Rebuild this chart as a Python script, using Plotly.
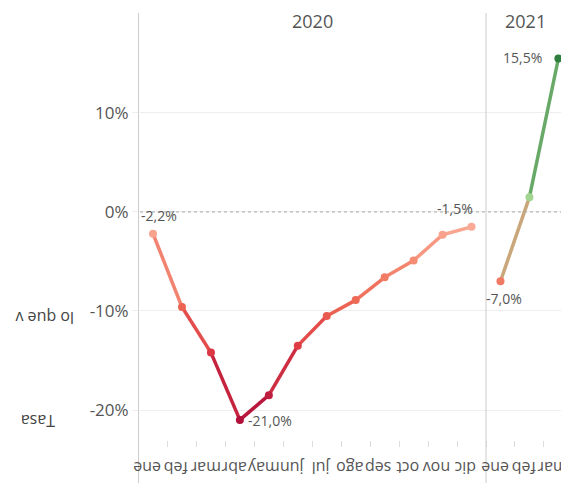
import plotly.graph_objects as go

months_2020 = ["ene", "feb", "mar", "abr", "may", "jun", "jul", "ago", "sep", "oct", "nov", "dic"]
values_2020 = [-2.2, -9.6, -14.2, -21.0, -18.5, -13.5, -10.5, -8.9, -6.6, -4.9, -2.3, -1.5]
months_2021 = ["ene", "feb", "mar"]
values_2021 = [-7.0, 1.5, 15.5]
years = ["2020", "2021"]
y_ticks = [-20, -10, 0, 10]
y_ticktext = ["-20%", "-10%", "0%", "10%"]

FONT = "Open Sans"
GREY = "#555555"

neg_stops = [(-21, (177, 16, 58)), (-14, (220, 56, 68)), (-9.5, (236, 100, 82)),
             (-5, (245, 139, 115)), (0, (251, 182, 164))]
pos_stops = [(0, (174, 222, 152)), (15.5, (46, 126, 62))]


def interp(stops, v):
    if v <= stops[0][0]:
        return stops[0][1]
    for (a, ca), (b, cb) in zip(stops[:-1], stops[1:]):
        if a <= v <= b:
            t = (v - a) / (b - a)
            return tuple(ca[k] + (cb[k] - ca[k]) * t for k in range(3))
    return stops[-1][1]


def rgb_for(v):
    return interp(neg_stops, v) if v < 0 else interp(pos_stops, v)


def css(c):
    return "rgb(%d,%d,%d)" % tuple(int(round(x)) for x in c)


def mix(c1, c2):
    return tuple((a + b) / 2 for a, b in zip(c1, c2))


x2020 = list(range(len(months_2020)))
x2021 = [len(months_2020) + i for i in range(len(months_2021))]

fig = go.Figure()

for xs, vs in ((x2020, values_2020), (x2021, values_2021)):
    for i in range(len(xs) - 1):
        col = css(mix(rgb_for(vs[i]), rgb_for(vs[i + 1])))
        fig.add_trace(go.Scatter(x=[xs[i], xs[i + 1]], y=[vs[i], vs[i + 1]], mode="lines",
                                 line=dict(color=col, width=3.5), hoverinfo="skip",
                                 showlegend=False, cliponaxis=False))
    fig.add_trace(go.Scatter(x=xs, y=vs, mode="markers", cliponaxis=False,
                             marker=dict(size=8, color=[css(rgb_for(v)) for v in vs]),
                             showlegend=False))

x0, x1 = -0.45, 14.09
sep = len(months_2020) - 0.5

# plot area in pixels: left 140, right 561, top 40, bottom 440
def px(xv):
    return (xv - x0) / (x1 - x0)


def py(pix):
    return (440 - pix) / 400


shapes = [
    dict(type="line", xref="paper", yref="y", x0=0, x1=1, y0=0, y1=0,
         line=dict(color="#aaaaaa", width=1, dash="dot")),
]
for xv in (-0.5, sep):
    shapes.append(dict(type="line", xref="paper", yref="paper", x0=px(xv), x1=px(xv),
                       y0=py(485), y1=py(13), line=dict(color="#cccccc", width=1)))

lab_font = dict(family=FONT, size=14, color=GREY)
annotations = [
    dict(x=x2020[0], y=values_2020[0], text="-2,2%", xanchor="center", yanchor="bottom",
         xshift=6, yshift=7, showarrow=False, font=lab_font),
    dict(x=x2020[-1], y=values_2020[-1], text="-1,5%", xanchor="right", yanchor="bottom",
         xshift=3, yshift=7, showarrow=False, font=lab_font),
    dict(x=x2020[3], y=values_2020[3], text="-21,0%", xanchor="left", yanchor="middle",
         xshift=6, yshift=-1, showarrow=False, font=lab_font),
    dict(x=x2021[0], y=values_2021[0], text="-7,0%", xanchor="center", yanchor="top",
         xshift=4, yshift=-6, showarrow=False, font=lab_font),
    dict(x=x2021[-1], y=values_2021[-1], text="15,5%", xanchor="right", yanchor="middle",
         xshift=-14, yshift=1, showarrow=False, font=lab_font),
    dict(x=(x2020[0] + x2020[-1]) / 2, y=1.0, yref="paper", text=years[0], xanchor="center",
         yanchor="bottom", yshift=5, showarrow=False, font=dict(family=FONT, size=18, color=GREY)),
    dict(x=x2021[1] - 0.15, y=1.0, yref="paper", text=years[1], xanchor="center",
         yanchor="bottom", yshift=5, showarrow=False, font=dict(family=FONT, size=18, color=GREY)),
    dict(x=(38 - 140) / 421, y=py(421), xref="paper", yref="paper", text="Tasa",
         textangle=180, xanchor="center", yanchor="middle", showarrow=False,
         font=dict(family=FONT, size=16, color="#444444")),
    dict(x=(45 - 140) / 421, y=py(318), xref="paper", yref="paper", text="lo que v",
         textangle=180, xanchor="center", yanchor="middle", showarrow=False,
         font=dict(family=FONT, size=16, color="#444444")),
]
# upside-down category labels
for xv, lab in zip(x2020 + x2021, months_2020 + months_2021):
    annotations.append(dict(x=xv, y=py(468), yref="paper", text=lab, textangle=180,
                            xanchor="center", yanchor="middle", xshift=-6, showarrow=False,
                            font=dict(family=FONT, size=16, color=GREY)))

fig.update_layout(
    width=561, height=483,
    margin=dict(l=140, r=0, t=40, b=43),
    paper_bgcolor="white", plot_bgcolor="white",
    shapes=shapes, annotations=annotations,
    xaxis=dict(range=[x0, x1], tickvals=x2020 + x2021, showticklabels=False,
               showgrid=False, zeroline=False, showline=False, ticks="",
               minor=dict(tickvals=[v - 0.5 for v in x2020 + x2021] + [x2021[-1] + 0.5],
                          ticks="outside", ticklen=6, tickcolor="#dddddd", showgrid=False)),
    yaxis=dict(range=[-23.03, 17.37], tickvals=y_ticks, ticktext=y_ticktext,
               showgrid=True, gridcolor="#eeeeee", zeroline=False, showline=False,
               ticks="outside", ticklen=7, tickcolor="#eeeeee",
               tickfont=dict(family=FONT, size=17, color=GREY)),
)

fig.write_html("out.html")
